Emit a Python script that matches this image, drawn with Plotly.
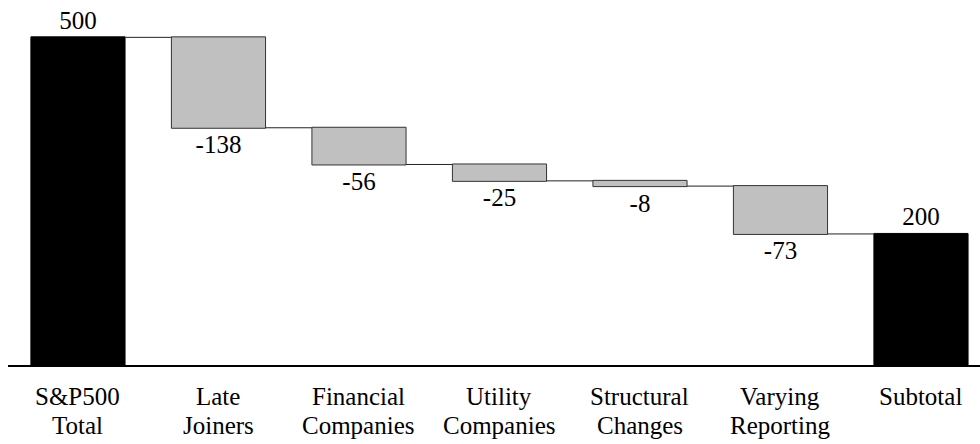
import plotly.graph_objects as go

categories = ["S&P500 Total", "Late Joiners", "Financial Companies", "Utility Companies",
              "Structural Changes", "Varying Reporting", "Subtotal"]
label_line1 = ["S&P500", "Late", "Financial", "Utility", "Structural", "Varying", "Subtotal"]
label_line2 = ["Total", "Joiners", "Companies", "Companies", "Changes", "Reporting", ""]
measures = ["absolute", "relative", "relative", "relative", "relative", "relative", "total"]
values = [500, -138, -56, -25, -8, -73, 0]

# text labels derived from data
texts = []
running = 0
for m, v in zip(measures, values):
    if m == "absolute":
        running = v
        texts.append(str(v))
    elif m == "relative":
        running += v
        texts.append(str(v))
    else:
        texts.append(str(running))

FONT = "Liberation Serif"
FS = 25

fig = go.Figure(go.Waterfall(
    x=categories,
    y=values,
    measure=measures,
    text=texts,
    textinfo="text",
    textposition="outside",
    textfont=dict(family=FONT, size=FS, color="black"),
    width=0.67,
    decreasing=dict(marker=dict(color="#c0c0c0", line=dict(color="#333333", width=1))),
    increasing=dict(marker=dict(color="#c0c0c0", line=dict(color="#333333", width=1))),
    totals=dict(marker=dict(color="black", line=dict(color="black", width=1))),
    connector=dict(line=dict(color="#222222", width=1)),
    cliponaxis=False,
))

annotations = []
for c, l1, l2 in zip(categories, label_line1, label_line2):
    annotations.append(dict(x=c, y=0, xref="x", yref="paper", text=l1, showarrow=False,
                            yanchor="middle", yshift=-31,
                            font=dict(family=FONT, size=FS, color="black")))
    if l2:
        annotations.append(dict(x=c, y=0, xref="x", yref="paper", text=l2, showarrow=False,
                                yanchor="middle", yshift=-60,
                                font=dict(family=FONT, size=FS, color="black")))

fig.update_layout(
    width=980, height=444,
    margin=dict(l=8, r=0, t=0, b=79),
    paper_bgcolor="white", plot_bgcolor="white",
    font=dict(family=FONT, size=FS, color="black"),
    showlegend=False,
    annotations=annotations,
    xaxis=dict(range=[-0.498, 6.42], showticklabels=False, ticks="", showgrid=False,
               showline=True, linecolor="black", linewidth=1.5, zeroline=False, fixedrange=True),
    yaxis=dict(range=[0, 557], visible=False, showgrid=False, zeroline=False, fixedrange=True),
)

fig.write_html("out.html")
